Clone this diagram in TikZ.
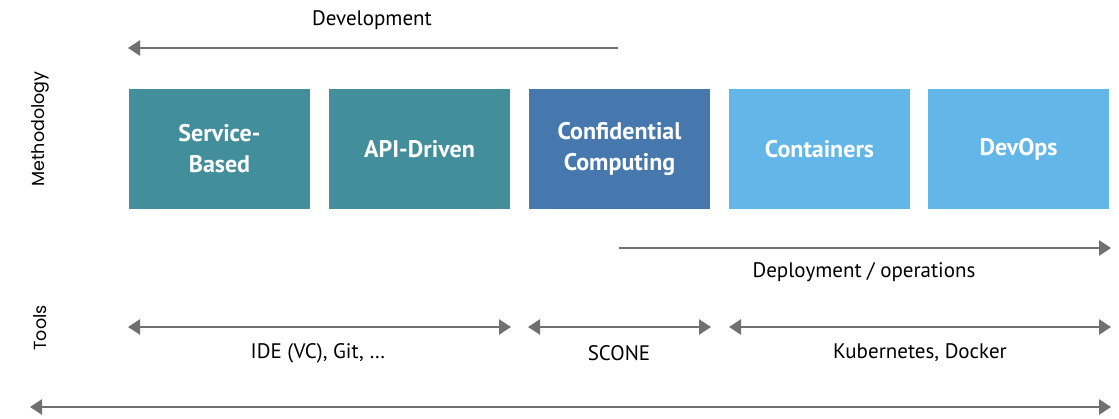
\documentclass[tikz,border=0pt]{standalone}
\usepackage{fontspec}
\setmainfont{PT Sans}
\newfontfamily\axisfont{Poppins}
\usetikzlibrary{arrows.meta}
\definecolor{teal}{HTML}{428F9B}
\definecolor{ccblue}{HTML}{4678AE}
\definecolor{lightblue}{HTML}{62B6E8}
\definecolor{arrowgray}{HTML}{707070}
\tikzset{
  box/.style={fill=#1, draw=none, minimum width=181pt, minimum height=120pt, inner sep=0pt,
    text=white, font=\fontsize{24}{31}\selectfont\bfseries, align=center},
  flow/.style={draw=arrowgray, line width=2.8pt, -{Triangle[length=12pt,width=15pt]}},
  both/.style={draw=arrowgray, line width=2.8pt, {Triangle[length=12pt,width=15pt]}-{Triangle[length=12pt,width=15pt]}},
  lbl/.style={font=\fontsize{21}{24}\selectfont, text=black, inner sep=0pt},
  axis/.style={font=\axisfont\fontsize{17.5}{20}\selectfont, rotate=90, inner sep=0pt}
}
\begin{document}
\begin{tikzpicture}[x=1pt,y=-1pt]
\useasboundingbox[fill=white] (0,0) rectangle (1119,419);
% boxes
\node[box=teal] (sb) at (219.5,149) {Service-\\Based};
\node[box=teal] (api) at (419.5,149) {API-Driven};
\node[box=ccblue] (cc) at (619.5,149) {Confidential\\Computing};
\node[box=lightblue] (cont) at (819.5,149) {Containers};
\node[box=lightblue] (dev) at (1018.5,149) {DevOps};
% axis labels
\node[axis] (meth) at (40,129) {Methodology};
\node[axis] (tools) at (40,328) {Tools};
% coordinates
\coordinate (devS) at (618,48);
\coordinate (devE) at (128,48);
\coordinate (depS) at (619,248);
\coordinate (depE) at (1111,248);
\coordinate (ideS) at (128,327);
\coordinate (ideE) at (511,327);
\coordinate (scS) at (528,327);
\coordinate (scE) at (711,327);
\coordinate (kuS) at (729,327);
\coordinate (kuE) at (1111,327);
\coordinate (botS) at (30,407);
\coordinate (botE) at (1111,407);
% arrows
\draw[flow] (devS) -- (devE);
\draw[flow] (depS) -- (depE);
\draw[both] (ideS) -- (ideE);
\draw[both] (scS) -- (scE);
\draw[both] (kuS) -- (kuE);
\draw[both] (botS) -- (botE);
% labels
\node[lbl] (ldev) at (372,20) {Development};
\node[lbl] (ldep) at (864,272) {Deployment / operations};
\node[lbl] (lide) at (318,353) {IDE (VC), Git, \dots};
\node[lbl] (lsc) at (619,353) {SCONE};
\node[lbl] (lku) at (920,353) {Kubernetes, Docker};
\end{tikzpicture}
\end{document}
